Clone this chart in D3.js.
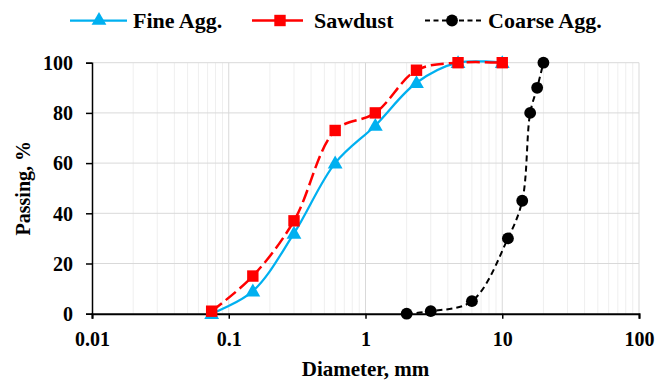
<!DOCTYPE html>
<html>
<head>
<meta charset="utf-8">
<script src="https://cdn.jsdelivr.net/npm/d3@7"></script>
<style>
  body { margin: 0; background: #fff; }
  svg text { font-family: "Liberation Serif", Tinos, "Times New Roman", "Nimbus Roman", "Noto Serif", FreeSerif, "DejaVu Serif", serif !important; font-weight: bold; fill: #000; }
</style>
</head>
<body>
<script>
const width = 656;
const height = 382;

// sieve sizes (mm) and percent passing
const fineSizes = [0.075, 0.15, 0.3, 0.6, 1.18, 2.36, 4.75, 10];
const finePass = [0, 9, 32, 60, 75, 92, 100, 100];
const sawSizes = [0.075, 0.15, 0.3, 0.6, 1.18, 2.36, 4.75, 10];
const sawPass = [1, 15, 37, 73, 80, 97, 100, 100];
const coarseSizes = [2, 3, 6, 11, 14, 16, 18, 20];
const coarsePass = [0, 1, 5, 30, 45, 80, 90, 100];

const xTicks = [0.01, 0.1, 1, 10, 100];
const yTicks = [0, 20, 40, 60, 80, 100];
const seriesNames = ["Fine Agg.", "Sawdust", "Coarse Agg."];

const svg = d3.select("body").append("svg")
  .attr("width", width)
  .attr("height", height);

const x = d3.scaleLog().domain([0.01, 100]).range([92, 639]);
const y = d3.scaleLinear().domain([0, 100]).range([313.7, 62.7]);

// minor vertical grid
const minor = [];
for (let d = 0.01; d < 100; d *= 10) {
  for (let k = 2; k <= 9; k++) minor.push(d * k);
}
svg.append("g").selectAll("line")
  .data(minor)
  .enter().append("line")
  .attr("x1", d => x(d)).attr("x2", d => x(d))
  .attr("y1", y(100)).attr("y2", y(0))
  .attr("stroke", "#efefef").attr("stroke-width", 1);

svg.append("g").selectAll("line")
  .data(xTicks.slice(1))
  .enter().append("line")
  .attr("x1", d => x(d)).attr("x2", d => x(d))
  .attr("y1", y(100)).attr("y2", y(0))
  .attr("stroke", "#d9d9d9").attr("stroke-width", 1);

svg.append("g").selectAll("line")
  .data(yTicks.slice(1))
  .enter().append("line")
  .attr("x1", x(0.01)).attr("x2", x(100))
  .attr("y1", d => y(d)).attr("y2", d => y(d))
  .attr("stroke", "#d9d9d9").attr("stroke-width", 1);

// axes
const xAxis = d3.axisBottom(x).tickValues(xTicks).tickFormat(d => String(d)).tickSize(5).tickPadding(13);
const gx = svg.append("g")
  .attr("transform", "translate(0," + y(0) + ")")
  .call(xAxis)
  .attr("font-family", null).attr("font-size", null);
gx.select(".domain").attr("stroke", "#000").attr("stroke-width", 2);
gx.selectAll(".tick line").attr("stroke", "#000").attr("stroke-width", 1.5);
gx.selectAll("text").style("font-size", "20px").attr("fill", "#000");

const yAxis = d3.axisLeft(y).tickValues(yTicks).tickSize(6).tickPadding(13);
const gy = svg.append("g")
  .attr("transform", "translate(" + x(0.01) + ",0)")
  .call(yAxis)
  .attr("font-family", null).attr("font-size", null);
gy.select(".domain").attr("stroke", "#000").attr("stroke-width", 1.5);
gy.selectAll(".tick line").attr("stroke", "#000").attr("stroke-width", 1.5);
gy.selectAll("text").style("font-size", "20px").attr("fill", "#000").attr("dy", "0.34em");

svg.append("text")
  .attr("x", (x(0.01) + x(100)) / 2).attr("y", 376)
  .attr("text-anchor", "middle").style("font-size", "21px")
  .text("Diameter, mm");

svg.append("text")
  .attr("transform", "translate(30," + (y(0) + y(100)) / 2 + ") rotate(-90)")
  .attr("text-anchor", "middle").style("font-size", "20px")
  .text("Passing, %");

const line = d3.line()
  .x(d => x(d[0]))
  .y(d => y(d[1]))
  .curve(d3.curveCatmullRom.alpha(0.5));

const tri = d3.symbol().type(d3.symbolTriangle).size(95);
const sq = d3.symbol().type(d3.symbolSquare).size(130);
const dot = d3.symbol().type(d3.symbolCircle).size(110);

const fine = d3.zip(fineSizes, finePass);
const saw = d3.zip(sawSizes, sawPass);
const coarse = d3.zip(coarseSizes, coarsePass);

// fine aggregate
svg.append("path").datum(fine)
  .attr("d", line).attr("fill", "none")
  .attr("stroke", "#00b0f0").attr("stroke-width", 2.25);
svg.append("g").selectAll("path")
  .data(fine).enter().append("path")
  .attr("d", tri)
  .attr("transform", d => "translate(" + x(d[0]) + "," + (y(d[1]) + 1) + ")")
  .attr("fill", "#00b0f0");

// sawdust
svg.append("path").datum(saw)
  .attr("d", line).attr("fill", "none")
  .attr("stroke", "#ff0000").attr("stroke-width", 2.5)
  .attr("stroke-dasharray", "13,5");
svg.append("g").selectAll("path")
  .data(saw).enter().append("path")
  .attr("d", sq)
  .attr("transform", d => "translate(" + x(d[0]) + "," + y(d[1]) + ")")
  .attr("fill", "#ff0000");

// coarse aggregate
svg.append("path").datum(coarse)
  .attr("d", line).attr("fill", "none")
  .attr("stroke", "#000").attr("stroke-width", 2)
  .attr("stroke-dasharray", "6,4");
svg.append("g").selectAll("path")
  .data(coarse).enter().append("path")
  .attr("d", dot)
  .attr("transform", d => "translate(" + x(d[0]) + "," + y(d[1]) + ")")
  .attr("fill", "#000");

// legend
const legend = [
  { x1: 70, x2: 127, m: 99, tx: 133, color: "#00b0f0", dash: null, w: 2.25, sym: tri },
  { x1: 252, x2: 303, m: 280, tx: 314, color: "#ff0000", dash: null, w: 2.5, sym: sq },
  { x1: 425, x2: 481, m: 452, tx: 488, color: "#000", dash: "5,3.5", w: 2, sym: dot }
];
const lg = svg.append("g").selectAll("g")
  .data(legend).enter().append("g");
lg.append("line")
  .attr("x1", d => d.x1).attr("x2", d => d.x2)
  .attr("y1", 20.5).attr("y2", 20.5)
  .attr("stroke", d => d.color).attr("stroke-width", d => d.w)
  .attr("stroke-dasharray", d => d.dash);
lg.append("path")
  .attr("d", d => d.sym())
  .attr("transform", d => "translate(" + d.m + ",20.5)")
  .attr("fill", d => d.color);
lg.append("text")
  .attr("x", d => d.tx).attr("y", 27.5)
  .style("font-size", "22px")
  .text((d, i) => seriesNames[i]);
</script>
</body>
</html>
